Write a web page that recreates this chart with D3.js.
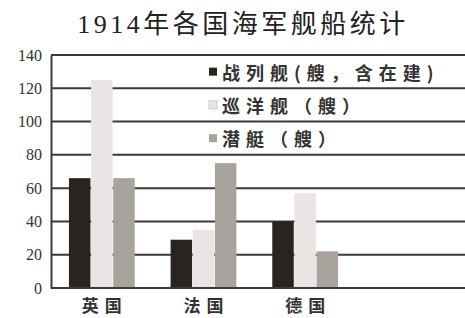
<!DOCTYPE html>
<html><head><meta charset="utf-8">
<script src="https://cdn.jsdelivr.net/npm/d3@7"></script>
<style>
html,body{margin:0;padding:0;background:#fff;}
svg{display:block;}
</style></head>
<body>
<svg id="c" width="465" height="318"></svg>
<script>
const title = "1914年各国海军舰船统计";
const categories = ["英国", "法国", "德国"];
const seriesNames = ["战列舰(艘，含在建)", "巡洋舰（艘）", "潜艇（艘）"];
const battleships = [66, 29, 40];
const cruisers = [125, 35, 57];
const submarines = [66, 75, 22];
const yTicks = [0, 20, 40, 60, 80, 100, 120, 140];
const colors = ["#2a2420", "#ebe4e4", "#a8a39d"];

const series = [battleships, cruisers, submarines];
const svg = d3.select("#c");
const W = 465, H = 318;
const y = d3.scaleLinear().domain([0, 140]).range([288, 55]);
const x = d3.scaleBand().domain(categories).range([51, 356]).paddingInner(0.34).paddingOuter(0.17);
const xs = d3.scaleBand().domain(d3.range(series.length)).range([0, x.bandwidth()]).padding(0.03);

// title
svg.append("text").attr("x", 243).attr("y", 24)
  .attr("text-anchor", "middle").attr("dominant-baseline", "central")
  .style("font-family", "'Liberation Serif','Noto Sans CJK SC'")
  .style("font-size", "26px").style("letter-spacing", "3.5px").attr("fill", "#222")
  .text(title);

// gridlines
const grid = svg.append("g");
grid.selectAll("line").data(yTicks).join("line")
  .attr("x1", 51).attr("x2", W)
  .attr("y1", d => y(d)).attr("y2", d => y(d))
  .attr("stroke", "#3a3a3a").attr("stroke-width", 2);

// y axis
const yAxis = svg.append("g").attr("transform", "translate(51,0)")
  .call(d3.axisLeft(y).tickValues(yTicks).tickSize(0).tickPadding(9));
yAxis.select(".domain").attr("stroke", "#3a3a3a").attr("stroke-width", 2);
yAxis.selectAll("text").style("font-family", "'Liberation Serif'").style("font-size", "16px").attr("fill", "#333");

// bars
const groups = svg.append("g").selectAll("g").data(categories).join("g")
  .attr("transform", d => `translate(${x(d)},0)`);
groups.selectAll("rect").data((d, i) => series.map((s, k) => ({k, v: s[i]}))).join("rect")
  .attr("x", d => xs(d.k)).attr("width", xs.bandwidth())
  .attr("y", d => y(d.v)).attr("height", d => y(0) - y(d.v))
  .attr("fill", d => colors[d.k]);

// x axis
const xAxis = svg.append("g").attr("transform", `translate(0,${y(0)})`)
  .call(d3.axisBottom(x).tickSize(0).tickPadding(12));
xAxis.select(".domain").remove();
svg.append("line").attr("x1", 51).attr("x2", W).attr("y1", y(0)).attr("y2", y(0))
  .attr("stroke", "#3a3a3a").attr("stroke-width", 2);
xAxis.selectAll("text").style("font-family", "'Noto Sans CJK SC'").style("font-size", "17px")
  .style("font-weight", "bold").style("letter-spacing", "6px").attr("fill", "#333")
  .attr("dx", "3px");

// legend
const legendVals = [130, 110, 90];
const lg = svg.append("g").selectAll("g").data(seriesNames).join("g")
  .attr("transform", (d, i) => `translate(209,${y(legendVals[i])})`);
lg.append("rect").attr("x", 0).attr("y", -4).attr("width", 8).attr("height", 8)
  .attr("fill", (d, i) => colors[i]).attr("stroke", (d,i)=> i===1 ? "#ccc" : "none");
lg.append("text").attr("x", 13).attr("y", 0).attr("dominant-baseline", "central")
  .style("font-family", "'Noto Sans CJK SC'").style("font-size", "18px").style("font-weight", "bold")
  .style("letter-spacing", "6px").attr("fill", "#333")
  .text(d => d);
</script>
</body></html>
